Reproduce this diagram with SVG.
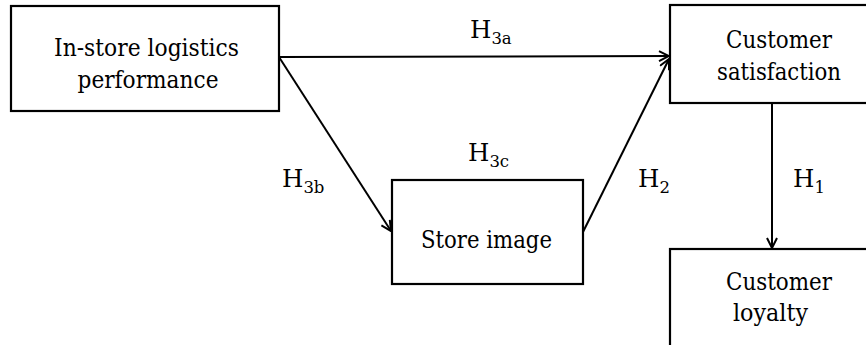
<svg xmlns="http://www.w3.org/2000/svg" width="866" height="345" viewBox="0 0 866 345">
<style>
.box{fill:#fff;stroke:#000;stroke-width:2.2}
text{font-family:'DejaVu Serif',serif;fill:#000}
.t{font-size:25px;text-anchor:middle}
.h{font-size:24.5px}
.s{font-size:16.5px}
.c{fill:none;stroke:#000;stroke-width:2}
</style>
<defs>
<marker id="arr" viewBox="0 0 12 12" refX="11" refY="6" markerWidth="12" markerHeight="12" markerUnits="userSpaceOnUse" orient="auto">
<path d="M1,1 L11,6 L1,11" fill="none" stroke="#000" stroke-width="2"/>
</marker>
</defs>
<rect width="866" height="345" fill="#fff"/>
<g id="connectors">
<line class="c" x1="279" y1="57" x2="669" y2="56" marker-end="url(#arr)"/>
<line class="c" x1="279" y1="57" x2="391" y2="231" marker-end="url(#arr)"/>
<line class="c" x1="583" y1="232" x2="669" y2="59" marker-end="url(#arr)"/>
<line class="c" x1="772" y1="103" x2="772" y2="248" marker-end="url(#arr)"/>
</g>
<g id="labels">
<text class="h" x="470" y="38">H<tspan class="s" dy="6">3a</tspan></text>
<text class="h" x="282" y="187">H<tspan class="s" dy="6">3b</tspan></text>
<text class="h" x="468" y="161">H<tspan class="s" dy="6">3c</tspan></text>
<text class="h" x="638" y="187">H<tspan class="s" dy="6">2</tspan></text>
<text class="h" x="793" y="187">H<tspan class="s" dy="6">1</tspan></text>
</g>
<g id="node-logistics">
<rect class="box" x="11" y="6" width="268" height="105"/>
<text class="t" x="146.5" y="56" textLength="185" lengthAdjust="spacingAndGlyphs">In-store logistics</text>
<text class="t" x="148" y="88" textLength="141" lengthAdjust="spacingAndGlyphs">performance</text>
</g>
<g id="node-satisfaction">
<rect class="box" x="670" y="5" width="216" height="98"/>
<text class="t" x="779" y="48" textLength="106" lengthAdjust="spacingAndGlyphs">Customer</text>
<text class="t" x="779" y="80" textLength="124" lengthAdjust="spacingAndGlyphs">satisfaction</text>
</g>
<g id="node-image">
<rect class="box" x="392" y="180" width="191" height="104"/>
<text class="t" x="486.5" y="248" textLength="131" lengthAdjust="spacingAndGlyphs">Store image</text>
</g>
<g id="node-loyalty">
<rect class="box" x="670" y="249" width="216" height="110"/>
<text class="t" x="779" y="290" textLength="106" lengthAdjust="spacingAndGlyphs">Customer</text>
<text class="t" x="770.5" y="321" textLength="75" lengthAdjust="spacingAndGlyphs">loyalty</text>
</g>
</svg>
